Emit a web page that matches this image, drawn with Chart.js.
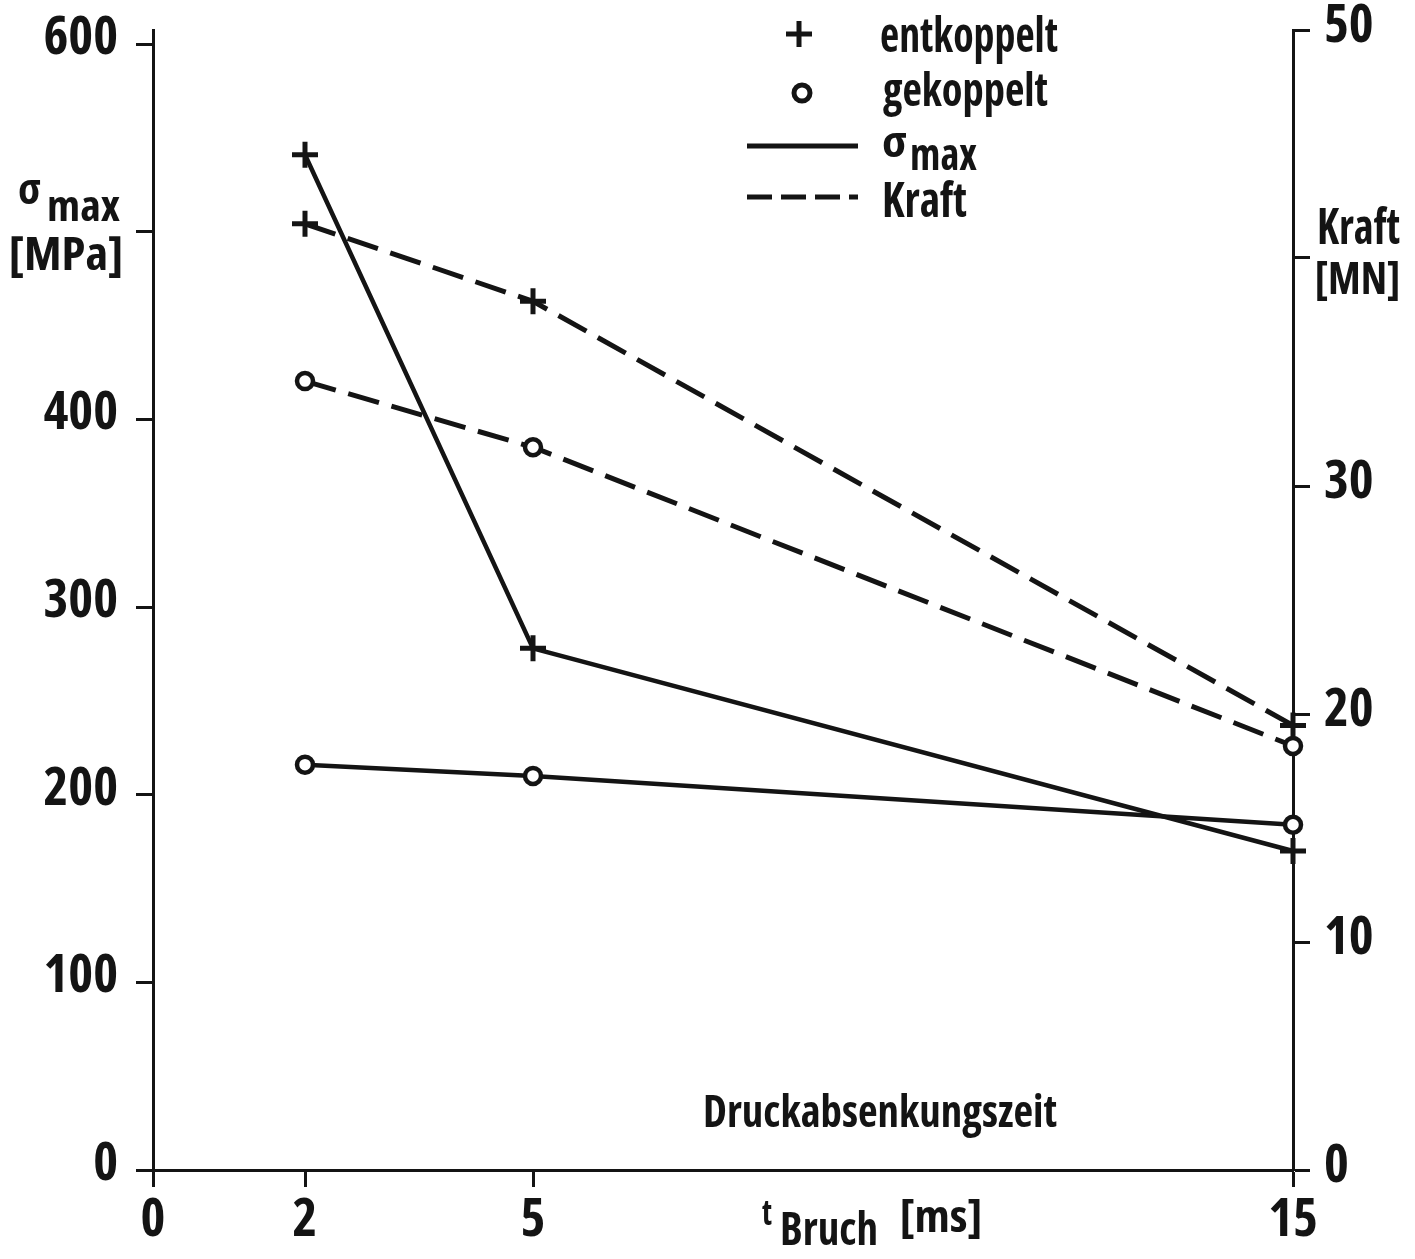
<!DOCTYPE html>
<html>
<head>
<meta charset="utf-8">
<script src="https://cdn.jsdelivr.net/npm/chart.js@4.4.1/dist/chart.umd.min.js"></script>
<style>
  html, body { margin: 0; padding: 0; background: #fff; }
  #wrap { width: 1415px; height: 1259px; }
</style>
</head>
<body>
<div id="wrap"><canvas id="myChart" width="1415" height="1259"></canvas></div>
<script>
// Break time t_Bruch [ms]
const tBruch = [2, 5, 15];

// sigma max [MPa]
const sigmaEntkoppelt = [541, 278, 170];
const sigmaGekoppelt = [216, 210, 184];

// Kraft [MN]
const kraftEntkoppelt = [41.5, 38.1, 19.5];
const kraftGekoppelt = [34.6, 31.7, 18.6];

// ticks and their labels (500 and 40 carry the axis titles instead)
const xTicks = [0, 2, 5, 15];
const xTickLabels = ["0", "2", "5", "15"];
const sigmaTicks = [0, 100, 200, 300, 400, 500, 600];
const sigmaTickLabels = ["0", "100", "200", "300", "400", "", "600"];
const kraftTicks = [0, 10, 20, 30, 40, 50];
const kraftTickLabels = ["0", "10", "20", "30", "", "50"];

const ink = "#141414";
const fontFamily = "'Open Sans', 'DejaVu Sans Condensed', sans-serif";
const fontWeight = "bold condensed";

function toPoints(xs, ys) {
  return xs.map((x, i) => ({ x: x, y: ys[i] }));
}

function setTicks(values) {
  return function (scale) {
    scale.ticks = values.map(v => ({ value: v }));
  };
}

function labelFor(values, labels) {
  return function (value) {
    const i = values.indexOf(value);
    return i >= 0 ? labels[i] : "";
  };
}

const tickFont = { family: fontFamily, size: 53, weight: fontWeight };

function axisStyle() {
  return {
    border: { color: ink, width: 3 },
    grid: {
      drawOnChartArea: false,
      drawTicks: true,
      tickLength: 17,
      tickWidth: 3,
      tickColor: ink
    }
  };
}

// draws a text squeezed to the width it has in the scan
function fitText(ctx, text, x, y, size, width) {
  ctx.font = fontWeight + " " + size + "px " + fontFamily;
  const w = ctx.measureText(text).width;
  ctx.save();
  ctx.translate(x, y);
  ctx.scale(width / w, 1);
  ctx.fillText(text, 0, 0);
  ctx.restore();
}

// Text labels, legend and axis titles
const annotations = {
  id: "annotations",
  afterDraw(chart) {
    const ctx = chart.ctx;
    ctx.save();
    ctx.fillStyle = ink;
    ctx.strokeStyle = ink;
    ctx.textAlign = "left";
    ctx.textBaseline = "alphabetic";

    // left axis title
    fitText(ctx, "σ", 18, 204, 42, 23);
    fitText(ctx, "max", 47, 221, 42, 73);
    fitText(ctx, "[MPa]", 9, 270, 46, 114);

    // right axis title
    fitText(ctx, "Kraft", 1317, 244, 50, 83);
    fitText(ctx, "[MN]", 1315, 294, 44, 85);

    // inside label
    fitText(ctx, "Druckabsenkungszeit", 703, 1127, 45, 354);

    // x axis title
    fitText(ctx, "t", 762, 1225, 36, 10);
    fitText(ctx, "Bruch", 780, 1245, 47, 98);
    fitText(ctx, "[ms]", 900, 1232, 45, 82);

    // legend
    ctx.lineWidth = 5;
    Chart.helpers.drawPoint(ctx, { pointStyle: "cross", radius: 13, rotation: 0, borderWidth: 5 }, 799, 34);
    ctx.fillStyle = "#fff";
    Chart.helpers.drawPoint(ctx, { pointStyle: "circle", radius: 8, rotation: 0, borderWidth: 5 }, 802, 93);
    ctx.fillStyle = ink;
    fitText(ctx, "entkoppelt", 880, 52, 48, 178);
    fitText(ctx, "gekoppelt", 883, 106, 46, 165);

    ctx.lineWidth = 5;
    ctx.beginPath();
    ctx.moveTo(747, 146);
    ctx.lineTo(858, 146);
    ctx.stroke();
    ctx.setLineDash([25, 9]);
    ctx.beginPath();
    ctx.moveTo(747, 197);
    ctx.lineTo(858, 197);
    ctx.stroke();
    ctx.setLineDash([]);

    fitText(ctx, "σ", 882, 157, 42, 25);
    fitText(ctx, "max", 910, 170, 44, 67);
    fitText(ctx, "Kraft", 882, 217, 48, 85);
    ctx.restore();
  }
};

const crossPoints = {
  pointStyle: "cross",
  pointRadius: 13,
  pointBorderWidth: 5,
  pointBorderColor: ink,
  pointBackgroundColor: ink
};
const circlePoints = {
  pointStyle: "circle",
  pointRadius: 8,
  pointBorderWidth: 4.5,
  pointBorderColor: ink,
  pointBackgroundColor: "#fff"
};

new Chart("myChart", {
  type: "line",
  data: {
    datasets: [
      Object.assign({
        label: "σmax entkoppelt",
        data: toPoints(tBruch, sigmaEntkoppelt),
        yAxisID: "ySigma",
        borderColor: ink,
        borderWidth: 4.5
      }, crossPoints),
      Object.assign({
        label: "σmax gekoppelt",
        data: toPoints(tBruch, sigmaGekoppelt),
        yAxisID: "ySigma",
        borderColor: ink,
        borderWidth: 4.5
      }, circlePoints),
      Object.assign({
        label: "Kraft entkoppelt",
        data: toPoints(tBruch, kraftEntkoppelt),
        yAxisID: "yKraft",
        borderColor: ink,
        borderWidth: 5,
        borderDash: [32, 13]
      }, crossPoints),
      Object.assign({
        label: "Kraft gekoppelt",
        data: toPoints(tBruch, kraftGekoppelt),
        yAxisID: "yKraft",
        borderColor: ink,
        borderWidth: 5,
        borderDash: [32, 13]
      }, circlePoints)
    ]
  },
  options: {
    responsive: false,
    animation: false,
    clip: false,
    layout: { padding: { top: 30, left: 0, right: 0, bottom: 0 } },
    elements: { line: { tension: 0 } },
    plugins: {
      legend: { display: false },
      tooltip: { enabled: false }
    },
    scales: {
      x: Object.assign(axisStyle(), {
        type: "linear",
        position: "bottom",
        min: 0,
        max: 15,
        afterBuildTicks: setTicks(xTicks),
        afterFit(scale) {
          scale.height = 89;
          scale.paddingLeft = 0;
          scale.paddingRight = 0;
        },
        ticks: {
          font: tickFont, color: ink, padding: 2, maxRotation: 0, autoSkip: false,
          callback: labelFor(xTicks, xTickLabels)
        }
      }),
      ySigma: Object.assign(axisStyle(), {
        type: "linear",
        position: "left",
        min: 0,
        max: 607.5,
        afterBuildTicks: setTicks(sigmaTicks),
        afterFit(scale) {
          scale.width = 153;
          scale.paddingTop = 0;
          scale.paddingBottom = 0;
        },
        ticks: {
          font: tickFont, color: ink, padding: 18, autoSkip: false, labelOffset: -5,
          callback: labelFor(sigmaTicks, sigmaTickLabels)
        }
      }),
      yKraft: Object.assign(axisStyle(), {
        type: "linear",
        position: "right",
        min: 0,
        max: 50,
        afterBuildTicks: setTicks(kraftTicks),
        afterFit(scale) {
          scale.width = 122;
          scale.paddingTop = 0;
          scale.paddingBottom = 0;
        },
        ticks: {
          font: tickFont, color: ink, padding: 14, autoSkip: false, labelOffset: -3,
          callback: labelFor(kraftTicks, kraftTickLabels)
        }
      })
    }
  },
  plugins: [annotations]
});
</script>
</body>
</html>
